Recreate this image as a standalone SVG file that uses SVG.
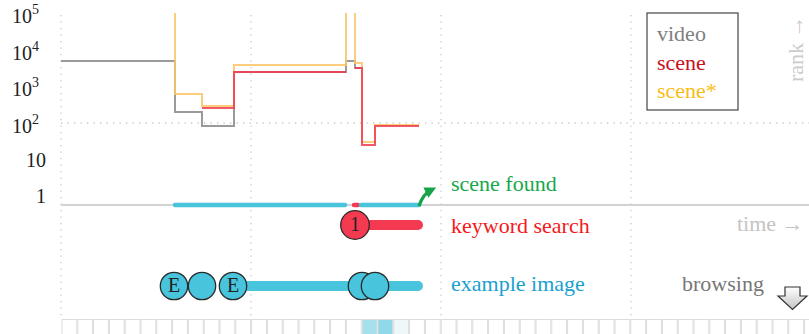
<svg xmlns="http://www.w3.org/2000/svg" width="809" height="334" viewBox="0 0 809 334">
  <defs>
    <style>
      .grid { stroke: #c8c8c8; stroke-width: 1.3; stroke-dasharray: 1.3 5.2; fill: none; }
      .lbl { font-family: "Liberation Serif", "Times New Roman", serif; font-size: 22px; }
      .axis { font-family: "Liberation Serif", "Times New Roman", serif; font-size: 20px; fill: #222; }
      .sup { font-size: 14px; }
      .rank { fill: none; stroke-width: 2; stroke-linejoin: miter; }
      .dot { stroke: #2a2a2a; stroke-width: 1.3; }
      .cell { fill: #fff; stroke: #dcdcdc; stroke-width: 1; }
    </style>
    <linearGradient id="arrowFill" x1="0" y1="0" x2="0" y2="1">
      <stop offset="0" stop-color="#ffffff"/>
      <stop offset="1" stop-color="#c4c4c4"/>
    </linearGradient>
    <marker id="greenHead" viewBox="0 0 10 10" refX="5" refY="5" markerWidth="3.6" markerHeight="3.6" orient="auto">
      <path d="M0,0 L10,5 L0,10 Z" fill="#17a34a"/>
    </marker>
  </defs>

  <!-- dotted grid -->
  <g id="grid">
    <line class="grid" x1="61" y1="15" x2="61" y2="316"/>
    <line class="grid" x1="251" y1="15" x2="251" y2="316"/>
    <line class="grid" x1="441" y1="15" x2="441" y2="316"/>
    <line class="grid" x1="631" y1="15" x2="631" y2="316"/>
    <line class="grid" x1="61" y1="123" x2="809" y2="123"/>
    <line x1="61" y1="205" x2="809" y2="205" stroke="#d2d2d2" stroke-width="2"/>
  </g>

  <!-- rank axis labels -->
  <g id="axis-labels" class="axis">
    <text x="12" y="23">10<tspan class="sup" dy="-9">5</tspan></text>
    <text x="12" y="60">10<tspan class="sup" dy="-9">4</tspan></text>
    <text x="12" y="96">10<tspan class="sup" dy="-9">3</tspan></text>
    <text x="12" y="133">10<tspan class="sup" dy="-9">2</tspan></text>
    <text x="46" y="167" text-anchor="end">10</text>
    <text x="46" y="203" text-anchor="end">1</text>
  </g>

  <!-- rank step curves -->
  <g id="rank-curves">
    <path class="rank" stroke="#9a9a9a" d="M61,61 H175 V112 H202 V126 H234 V72 H346 V61 H355 V68 H362"/>
    <path class="rank" stroke="#fcc463" stroke-opacity="0.85" d="M175,13 V94 H202 V106 H234 V65 H346 V13 M355,13 V63 H362 V142 H375 V125 H419"/>
    <path class="rank" stroke="#ee3c50" stroke-opacity="0.85" d="M202,108 H234 V72 H346 M355,68 H362 V145 H375 V126 H419"/>
  </g>

  <!-- legend -->
  <g id="legend">
    <rect x="647" y="13" width="91" height="97" fill="#fff" stroke="#444" stroke-width="1.2"/>
    <text class="lbl" x="657" y="41" fill="#808080" font-size="24">video</text>
    <text class="lbl" x="657" y="70" fill="#c8101c" font-size="24">scene</text>
    <text class="lbl" x="657" y="98" fill="#fbbd14" font-size="24">scene*</text>
  </g>

  <text class="lbl" transform="translate(803,82) rotate(-90)" fill="#cccccc" font-size="19">rank →</text>
  <text class="lbl" x="737" y="231" fill="#c4c4c4" font-size="20">time →</text>

  <!-- session timeline -->
  <g id="timeline">
    <line x1="175" y1="205" x2="345" y2="205" stroke="#48c4dc" stroke-width="4.5" stroke-linecap="round"/>
    <line x1="354" y1="205" x2="358" y2="205" stroke="#f43c50" stroke-width="4.5" stroke-linecap="round"/>
    <line x1="361" y1="205" x2="419" y2="205" stroke="#48c4dc" stroke-width="4.5" stroke-linecap="round"/>
    <path d="M419,206 Q423,194 431,190" fill="none" stroke="#17a34a" stroke-width="3.2" marker-end="url(#greenHead)"/>
    <text class="lbl" x="451" y="191" fill="#17a84a">scene found</text>
  </g>

  <!-- keyword search row -->
  <g id="keyword-search">
    <line x1="355" y1="225" x2="418" y2="225" stroke="#f43a50" stroke-width="10" stroke-linecap="round"/>
    <circle class="dot" cx="355" cy="225" r="14.3" fill="#f43a50"/>
    <text class="axis" x="355" y="231" text-anchor="middle" font-size="18">1</text>
    <text class="lbl" x="451" y="233" fill="#f51a1a">keyword search</text>
  </g>

  <!-- example image row -->
  <g id="example-image">
    <line x1="240" y1="286" x2="418" y2="286" stroke="#48c4dc" stroke-width="10" stroke-linecap="round"/>
    <circle class="dot" cx="174" cy="286" r="13.7" fill="#48c4dc"/>
    <text class="axis" x="174" y="292" text-anchor="middle" font-size="18">E</text>
    <circle class="dot" cx="202" cy="286" r="13.7" fill="#48c4dc"/>
    <circle class="dot" cx="233" cy="286" r="13.7" fill="#48c4dc"/>
    <text class="axis" x="233" y="292" text-anchor="middle" font-size="18">E</text>
    <circle class="dot" cx="362" cy="286" r="13.7" fill="#48c4dc"/>
    <circle class="dot" cx="375" cy="286" r="13.7" fill="#48c4dc"/>
    <text class="lbl" x="451" y="291" fill="#1aa0d0">example image</text>
  </g>

  <!-- browsing -->
  <g id="browsing">
    <text class="lbl" x="682" y="291" fill="#777">browsing</text>
    <path d="M785,287 H800 V296 H807 L792.5,309.5 L778,296 H785 Z" fill="url(#arrowFill)" stroke="#333" stroke-width="1.2" stroke-linejoin="miter"/>
  </g>

  <!-- thumbnail strip -->
  <g id="strip">
    <rect class="cell" x="62" y="319.5" width="14.8" height="16"/>
    <rect class="cell" x="77.8" y="319.5" width="14.8" height="16"/>
    <rect class="cell" x="93.6" y="319.5" width="14.8" height="16"/>
    <rect class="cell" x="109.4" y="319.5" width="14.8" height="16"/>
    <rect class="cell" x="125.2" y="319.5" width="14.8" height="16"/>
    <rect class="cell" x="141" y="319.5" width="14.8" height="16"/>
    <rect class="cell" x="156.8" y="319.5" width="14.8" height="16"/>
    <rect class="cell" x="172.6" y="319.5" width="14.8" height="16"/>
    <rect class="cell" x="188.4" y="319.5" width="14.8" height="16"/>
    <rect class="cell" x="204.2" y="319.5" width="14.8" height="16"/>
    <rect class="cell" x="220" y="319.5" width="14.8" height="16"/>
    <rect class="cell" x="235.8" y="319.5" width="14.8" height="16"/>
    <rect class="cell" x="251.6" y="319.5" width="14.8" height="16"/>
    <rect class="cell" x="267.4" y="319.5" width="14.8" height="16"/>
    <rect class="cell" x="283.2" y="319.5" width="14.8" height="16"/>
    <rect class="cell" x="299" y="319.5" width="14.8" height="16"/>
    <rect class="cell" x="314.8" y="319.5" width="14.8" height="16"/>
    <rect class="cell" x="330.6" y="319.5" width="14.8" height="16"/>
    <rect class="cell" x="346.4" y="319.5" width="14.8" height="16"/>
    <rect class="cell" x="362.2" y="319.5" width="14.8" height="16" style="fill:#a6e0ec"/>
    <rect class="cell" x="378" y="319.5" width="14.8" height="16" style="fill:#8fd9e8"/>
    <rect class="cell" x="393.8" y="319.5" width="14.8" height="16" style="fill:#eef8fb"/>
    <rect class="cell" x="409.6" y="319.5" width="14.8" height="16"/>
    <rect class="cell" x="425.4" y="319.5" width="14.8" height="16"/>
    <rect class="cell" x="441.2" y="319.5" width="14.8" height="16"/>
    <rect class="cell" x="457" y="319.5" width="14.8" height="16"/>
    <rect class="cell" x="472.8" y="319.5" width="14.8" height="16"/>
    <rect class="cell" x="488.6" y="319.5" width="14.8" height="16"/>
    <rect class="cell" x="504.4" y="319.5" width="14.8" height="16"/>
    <rect class="cell" x="520.2" y="319.5" width="14.8" height="16"/>
    <rect class="cell" x="536" y="319.5" width="14.8" height="16"/>
    <rect class="cell" x="551.8" y="319.5" width="14.8" height="16"/>
    <rect class="cell" x="567.6" y="319.5" width="14.8" height="16"/>
    <rect class="cell" x="583.4" y="319.5" width="14.8" height="16"/>
    <rect class="cell" x="599.2" y="319.5" width="14.8" height="16"/>
    <rect class="cell" x="615" y="319.5" width="14.8" height="16"/>
    <rect class="cell" x="630.8" y="319.5" width="14.8" height="16"/>
    <rect class="cell" x="646.6" y="319.5" width="14.8" height="16"/>
    <rect class="cell" x="662.4" y="319.5" width="14.8" height="16"/>
    <rect class="cell" x="678.2" y="319.5" width="14.8" height="16"/>
    <rect class="cell" x="694" y="319.5" width="14.8" height="16"/>
    <rect class="cell" x="709.8" y="319.5" width="14.8" height="16"/>
    <rect class="cell" x="725.6" y="319.5" width="14.8" height="16"/>
    <rect class="cell" x="741.4" y="319.5" width="14.8" height="16"/>
    <rect class="cell" x="757.2" y="319.5" width="14.8" height="16"/>
    <rect class="cell" x="773" y="319.5" width="14.8" height="16"/>
    <rect class="cell" x="788.8" y="319.5" width="14.8" height="16"/>
    <rect class="cell" x="804.6" y="319.5" width="14.8" height="16"/>
  </g>
</svg>
